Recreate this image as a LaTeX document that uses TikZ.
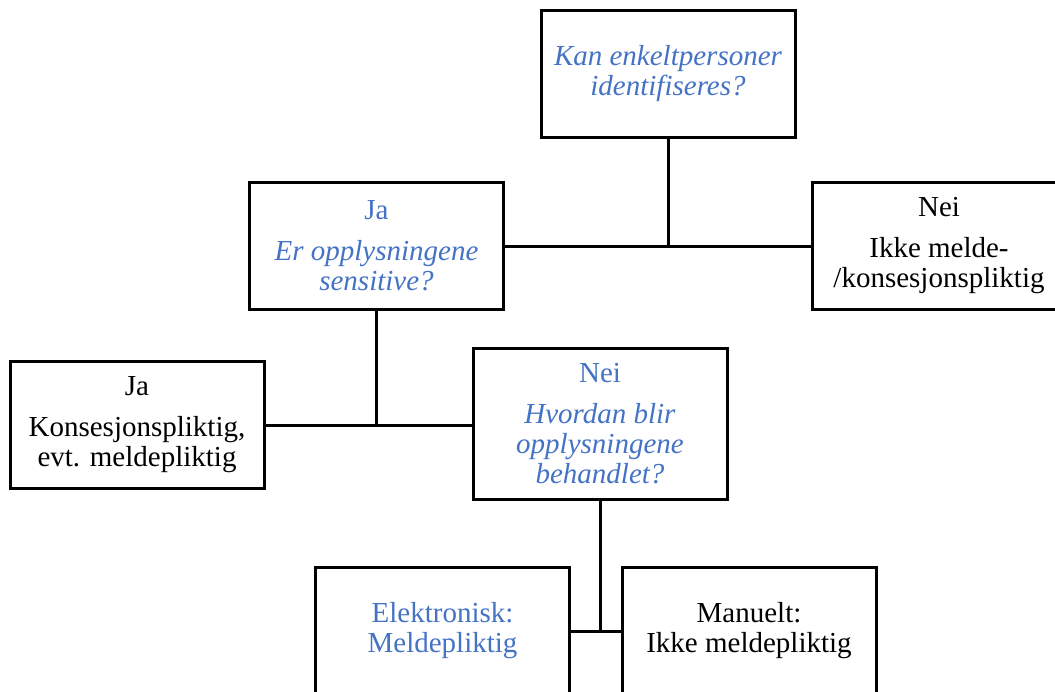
\documentclass[tikz,border=0pt]{standalone}
\usepackage{fontspec}
\setmainfont{Liberation Serif}
\definecolor{qblue}{RGB}{68,114,196}
\begin{document}
\begin{tikzpicture}[x=1pt,y=-1pt,
  box/.style={draw, line width=3pt, rectangle, inner sep=0pt, align=center,
    font=\fontsize{29}{30}\selectfont, minimum width=254pt, minimum height=127pt},
  bluetext/.style={text=qblue},
  conn/.style={line width=3pt}]
\useasboundingbox (0,0) rectangle (1055,691);
\clip (0,0) rectangle (1055,691);
\node[box, bluetext] (q1) at (668,74) {\textit{Kan enkeltpersoner}\\\textit{identifiseres?}};
\node[box, bluetext] (ja1) at (376.5,246) {Ja\\[11pt]\textit{Er opplysningene}\\\textit{sensitive?}};
\node[box] (nei1) at (939,246) {Nei\\[11pt]Ikke melde-\\/konsesjonspliktig};
\node[box] (ja2) at (137,425) {Ja\\[11pt]Konsesjonspliktig,\\evt. meldepliktig};
\node[box, bluetext, minimum height=151pt] (nei2) at (600,423.5) {Nei\\[11pt]\textit{Hvordan blir}\\\textit{opplysningene}\\\textit{behandlet?}};
\node[box, bluetext, minimum height=128pt] (el) at (442.5,631) {Elektronisk:\\Meldepliktig};
\node[box, minimum height=128pt] (man) at (749,631) {Manuelt:\\Ikke meldepliktig};
\draw[conn] (ja1.east) -- (ja1.east -| nei1.west);
\draw[conn] (q1.south) -- (q1.south |- ja1.east);
\draw[conn] (ja2.east) -- (ja2.east -| nei2.west);
\draw[conn] (ja1.south) -- (ja1.south |- ja2.east);
\draw[conn] (el.east) -- (man.west);
\draw[conn] (nei2.south) -- (nei2.south |- el.east);
\end{tikzpicture}
\end{document}
